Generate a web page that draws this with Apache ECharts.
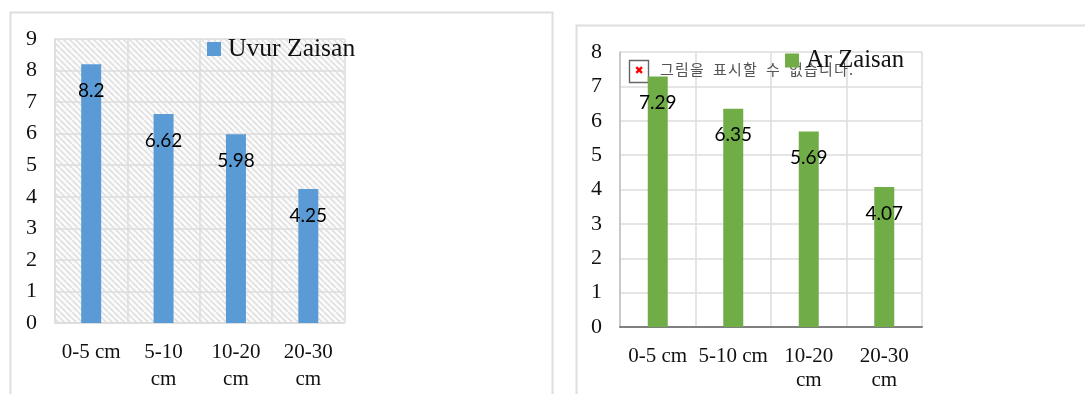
<!DOCTYPE html>
<html>
<head>
<meta charset="utf-8">
<style>html,body{margin:0;padding:0;background:#fff}#chart{width:1085px;height:394px}</style>
<script src="https://cdn.jsdelivr.net/npm/echarts@6/dist/echarts.min.js"></script>
</head>
<body>
<div id="chart"></div>
<script>
// Soil depth classes and measured values for the two sites
const uvurCategories = ['0-5 cm', '5-10\ncm', '10-20\ncm', '20-30\ncm'];
const arCategories = ['0-5 cm', '5-10 cm', '10-20\ncm', '20-30\ncm'];
const uvurValues = [8.2, 6.62, 5.98, 4.25];
const arValues = [7.29, 6.35, 5.69, 4.07];
const uvurName = 'Uvur Zaisan';
const arName = 'Ar Zaisan';
const uvurTicks = { max: 9, interval: 1 };
const arTicks = { max: 8, interval: 1 };
const missingImageText = '그림을 표시할 수 없습니다.';

// Diagonal hatch tile for the first plot area
function hatchTile() {
  const s = 6, c = document.createElement('canvas');
  c.width = s; c.height = s;
  const g = c.getContext('2d');
  g.fillStyle = '#fbfbfb';
  g.fillRect(0, 0, s, s);
  g.strokeStyle = '#e0e0e0';
  g.lineWidth = 1.7;
  for (let o = -s; o <= s; o += s) {
    g.beginPath();
    g.moveTo(o, 0);
    g.lineTo(o + s, s);
    g.stroke();
  }
  return c;
}

// Places each glyph separately so the placeholder caption keeps its wide spacing
function spacedCaption(text, startX, y) {
  let x = startX;
  return Array.from(text).map((ch) => {
    const item = {
      type: 'text', silent: true, z: 2, x, y,
      style: { text: ch, fill: '#555', font: '15px "Noto Sans CJK KR"', verticalAlign: 'middle' }
    };
    x += ch === ' ' ? 8 : 15;
    return item;
  });
}

const serif = '"Liberation Serif"';
const gridColor = '#dcdcdc';

function xAxis(gridIndex, data, lineColor, lineWidth, lineHeight, margin) {
  return {
    type: 'category', gridIndex, data,
    axisTick: { show: false },
    axisLine: { lineStyle: { color: lineColor, width: lineWidth } },
    splitLine: { show: true, interval: 0, lineStyle: { color: gridColor, width: 1.5 } },
    axisLabel: {
      interval: 0, margin, color: '#111', fontFamily: serif, fontSize: 21, lineHeight,
      hideOverlap: false
    }
  };
}
function yAxis(gridIndex, ticks, lineColor) {
  return {
    type: 'value', gridIndex, min: 0, max: ticks.max, interval: ticks.interval,
    axisTick: { show: false },
    axisLine: { show: true, lineStyle: { color: lineColor, width: 1.5 } },
    splitLine: { show: true, lineStyle: { color: gridColor, width: 1.5 } },
    axisLabel: { margin: 18, color: '#111', fontFamily: serif, fontSize: 22, padding: [2, 0, 0, 0] }
  };
}
function barSeries(name, data, index, color) {
  return {
    type: 'bar', name, data, xAxisIndex: index, yAxisIndex: index, barWidth: 20,
    itemStyle: { color },
    label: {
      show: true, position: 'insideTop', distance: 17, color: '#000',
      fontFamily: 'Lato', fontSize: 19
    },
    z: 3
  };
}
function legend(name, left, top, color, fontSize, itemGap) {
  return {
    data: [{ name, icon: 'rect', itemStyle: { color } }],
    left, top, padding: 0, itemWidth: 14, itemHeight: 14, itemGap,
    textStyle: { color: '#111', fontFamily: serif, fontSize, padding: [6, 0, 0, 2] },
    z: 6
  };
}

const chart = echarts.init(document.getElementById('chart'), null, { renderer: 'canvas' });
chart.setOption({
  animation: false,
  backgroundColor: '#fff',
  grid: [
    { left: 55, top: 39, width: 289.5, height: 284, show: true, borderWidth: 0, outerBoundsMode: 'none',
      backgroundColor: { image: hatchTile(), repeat: 'repeat' } },
    { left: 620, top: 52, width: 302, height: 275, outerBoundsMode: 'none' }
  ],
  xAxis: [
    xAxis(0, uvurCategories, gridColor, 1.5, 27, 16),
    xAxis(1, arCategories, '#7f7f7f', 2, 24, 17)
  ],
  yAxis: [yAxis(0, uvurTicks, gridColor), yAxis(1, arTicks, '#bfbfbf')],
  legend: [legend(uvurName, 207, 36, '#5b9bd5', 25.6, 5), legend(arName, 785, 48, '#70ad47', 24.7, 1)],
  series: [barSeries(uvurName, uvurValues, 0, '#5b9bd5'), barSeries(arName, arValues, 1, '#70ad47')],
  graphic: [
    // Outer frames of the two panels, open at the page edges
    { type: 'polyline', silent: true, z: 0,
      shape: { points: [[10.5, 394], [10.5, 12.5], [552.5, 12.5], [552.5, 394]] },
      style: { stroke: '#dedede', lineWidth: 2, fill: null } },
    { type: 'polyline', silent: true, z: 0,
      shape: { points: [[576.5, 394], [576.5, 25.5], [1085, 25.5]] },
      style: { stroke: '#dedede', lineWidth: 2, fill: null } },
    // Placeholder left by an image that failed to load
    { type: 'rect', silent: true, z: 1,
      shape: { x: 629.5, y: 60.5, width: 19, height: 22 },
      style: { fill: '#fff', stroke: '#666', lineWidth: 1.4 } },
    { type: 'text', silent: true, z: 2, x: 639, y: 71,
      style: { text: '✖', fill: '#f00', font: 'bold 11px "DejaVu Sans"', align: 'center', verticalAlign: 'middle' } },
    ...spacedCaption(missingImageText, 660, 69)
  ]
});
</script>
</body>
</html>
